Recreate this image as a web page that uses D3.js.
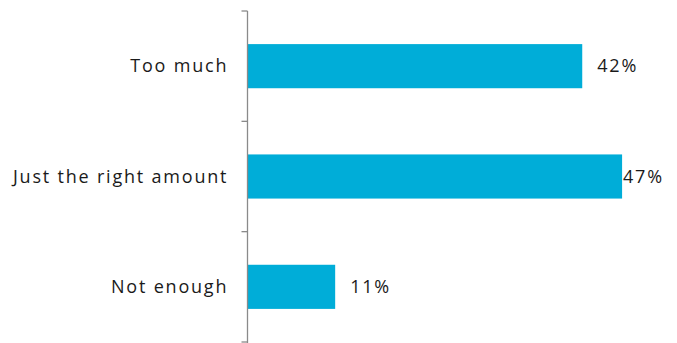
<!DOCTYPE html>
<html>
<head>
<meta charset="utf-8">
<script src="https://cdn.jsdelivr.net/npm/d3@7"></script>
<style>
  html, body { margin: 0; padding: 0; background: #fff; }
  svg text { font-family: "Open Sans", "DejaVu Sans", sans-serif; fill: #1a1a1a; letter-spacing: 1.8px; }
</style>
</head>
<body>
<svg id="chart" width="677" height="343"></svg>
<script>
const categories = ["Too much", "Just the right amount", "Not enough"];
const values = [42, 47, 11];
const valueLabels = ["42%", "47%", "11%"];

const width = 677, height = 343;
const margin = { top: 11, right: 12, bottom: 1, left: 247.5 };
const spacing = 1.8;

const svg = d3.select("#chart");

const y = d3.scaleBand()
  .domain(categories)
  .range([margin.top, height - margin.bottom])
  .paddingInner(0.6)
  .paddingOuter(0.3);

const x = d3.scaleLinear()
  .domain([0, 50])
  .range([margin.left, margin.left + 50 * 7.97]);

// bars
svg.append("g").selectAll("rect")
  .data(categories)
  .join("rect")
  .attr("x", x(0))
  .attr("y", d => y(d))
  .attr("width", (d, i) => x(values[i]) - x(0))
  .attr("height", y.bandwidth())
  .attr("fill", "#00ADD8");

// category axis: vertical line with ticks at band boundaries
const step = y.step();
const bounds = d3.range(categories.length + 1).map(i => margin.top + i * step);
const axis = svg.append("g").attr("stroke", "#8a8a8a").attr("stroke-width", 1.3);
axis.append("line")
  .attr("x1", x(0)).attr("x2", x(0))
  .attr("y1", bounds[0]).attr("y2", height);
axis.selectAll("line.tick")
  .data(bounds)
  .join("line")
  .attr("class", "tick")
  .attr("x1", x(0) - 6).attr("x2", x(0))
  .attr("y1", d => d).attr("y2", d => d);

// category labels (trailing letter-spacing compensated)
svg.append("g").selectAll("text")
  .data(categories)
  .join("text")
  .attr("x", x(0) - 21 + spacing)
  .attr("y", d => y(d) + y.bandwidth() / 2)
  .attr("dy", "0.35em")
  .attr("text-anchor", "end")
  .attr("font-size", 18)
  .text(d => d);

// value labels, kept inside the plot area
const labelMax = width - margin.right - 42;
svg.append("g").selectAll("text")
  .data(categories)
  .join("text")
  .attr("x", (d, i) => Math.min(x(values[i]) + 15, labelMax))
  .attr("y", d => y(d) + y.bandwidth() / 2)
  .attr("dy", "0.35em")
  .attr("font-size", 18)
  .text((d, i) => valueLabels[i]);
</script>
</body>
</html>
